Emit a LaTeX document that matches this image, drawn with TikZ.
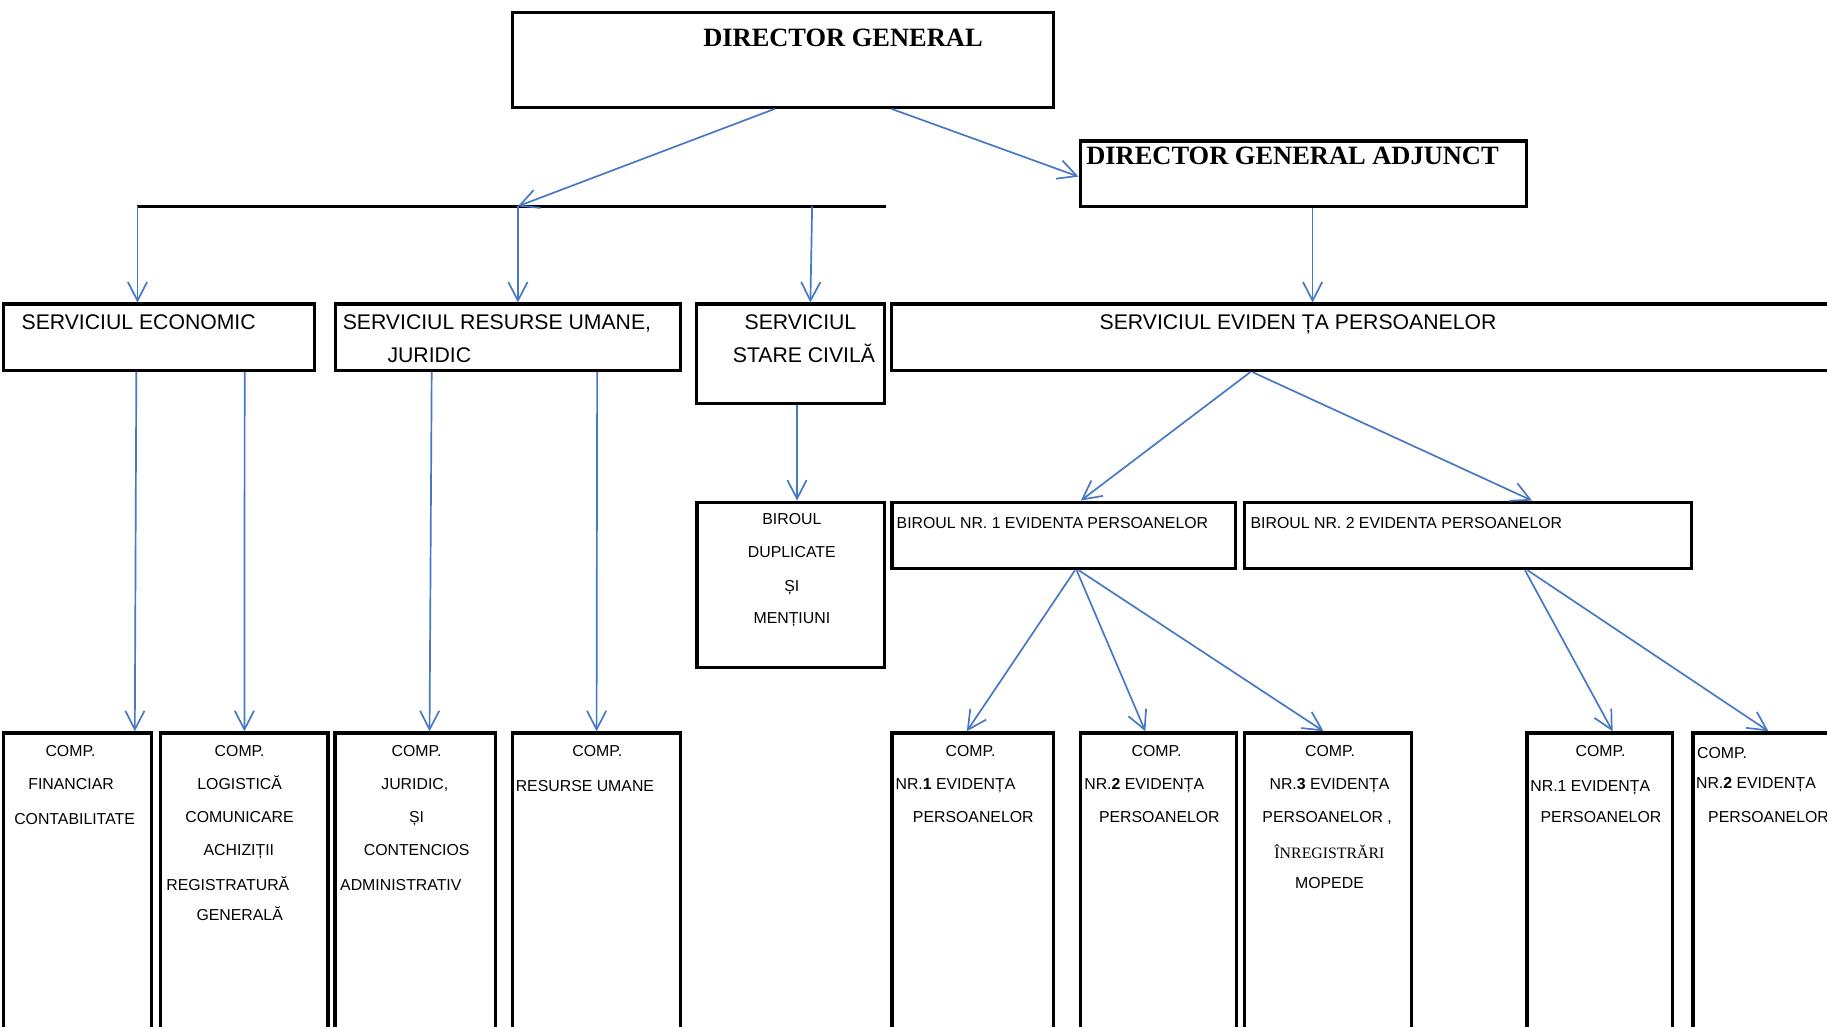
\documentclass[tikz,border=0pt]{standalone}
\usepackage{fontspec}
\setmainfont{Liberation Sans}
\newfontfamily\timesfont{Liberation Serif}
\usetikzlibrary{arrows.meta}
\definecolor{arrblue}{RGB}{70,120,196}

\begin{document}
\begin{tikzpicture}[x=1pt,y=-1pt,
  box/.style={draw, line width=2.8pt, inner sep=0pt},
  arr/.style={draw=arrblue, line width=1.45pt, -{Straight Barb[length=16pt,width=16.5pt]}},
  lbl/.style={inner sep=0pt, text height=9.7pt, text depth=0pt, font=\fontsize{13.6}{16}\selectfont},
  big/.style={inner sep=0pt, text height=13pt, text depth=0pt, font=\fontsize{18.2}{22}\selectfont},
  head/.style={inner sep=0pt, text height=15pt, text depth=0pt, font=\fontsize{22.7}{27}\timesfont\bfseries}]

\useasboundingbox (0,0) rectangle (1568,881);
\clip (0,0) rectangle (1568,881);

%boxes
\node[box, minimum width=464pt, minimum height=81pt] (dg) at (672,51.5) {};
\node[box, minimum width=383pt, minimum height=56pt] (dga) at (1118.5,149) {};
\node[box, minimum width=267pt, minimum height=57pt] (se) at (136.5,289.5) {};
\node[box, minimum width=296pt, minimum height=57pt] (sru) at (436,289.5) {};
\node[box, minimum width=161pt, minimum height=85.5pt] (ssc) at (678.5,303.75) {};
\node[box, minimum width=855pt, minimum height=57pt] (sep) at (1192.5,289.5) {};
\node[box, minimum width=161pt, minimum height=142pt] (bdm) at (678.75,502) {};
\node[box, minimum width=295pt, minimum height=57pt] (b1) at (913,459.5) {};
\node[box, minimum width=384pt, minimum height=57pt] (b2) at (1260,459.5) {};

% compartments
\foreach \n/\a/\b in {c1/3/130, c2/138/281.5, c3/287.5/425, c4/440/584, c5/765.5/904,
                     c6/927/1061.5, c7/1068/1211.5, c8/1310.5/1435.5, c9/1453/1620}
  \node[box, minimum width={(\b-\a)*1pt}, minimum height=291pt] (\n) at ({(\a+\b)/2},774.5) {};

% bar under director general
\coordinate (barL) at (118,177);
\coordinate (barR) at (760,177);
\coordinate (hub) at (444.5,177);
\coordinate (barC) at (697,177);
\draw[line width=2.4pt] (barL) -- (barR);

% arrows
\draw[arr] ([xshift=-7pt]dg.south) -- (hub);
\draw[arr] ([xshift=93pt]dg.south) -- ([yshift=-2.6pt]dga.west);
\draw[arr] (barL) -- (barL |- se.north);
\draw[arr] (hub) -- (hub |- sru.north);
\draw[arr] (barC) -- ([xshift=17pt]ssc.north);
\draw[arr] ([xshift=8pt]dga.south) -- ([xshift=-66pt]sep.north);
\draw[arr] ([xshift=5.5pt]ssc.south) -- ([xshift=5.25pt]bdm.north);
\draw[arr] ([xshift=-119.5pt]sep.south) -- ([xshift=14.6pt]b1.north);
\draw[arr] ([xshift=-117.5pt]sep.south) -- ([xshift=54.8pt]b2.north);
\draw[arr] ([xshift=-19.5pt]se.south) -- ([xshift=49.2pt]c1.north);
\draw[arr] ([xshift=73.5pt]se.south) -- (c2.north);
\draw[arr] ([xshift=-65.5pt]sru.south) -- ([xshift=12.4pt]c3.north);
\draw[arr] ([xshift=76.5pt]sru.south) -- (c4.north);
\draw[arr] ([xshift=9.6pt]b1.south) -- ([xshift=-5pt]c5.north);
\draw[arr] ([xshift=11pt]b1.south) -- ([xshift=-11.3pt]c6.north);
\draw[arr] ([xshift=12.8pt]b1.south) -- ([xshift=-3.8pt]c7.north);
\draw[arr] ([xshift=48.8pt]b2.south) -- ([xshift=11pt]c8.north);
\draw[arr] ([xshift=51pt]b2.south) -- ([xshift=-18.7pt]c9.north);

% titles
\node[head] (ldg) at (723.5,32) {DIRECTOR GENERAL};
\node[head] (ldga) at (1109.3,134) {DIRECTOR GENERAL ADJUNCT};
\node[big] (lse) at (119,276.7) {SERVICIUL ECONOMIC};
\node[big] (lsru) at (426.5,276.7) {SERVICIUL RESURSE UMANE,};
\node[big] (lsrub) at (368.5,304.7) {JURIDIC};
\node[big] (lssc) at (687,276.7) {SERVICIUL};
\node[big] (lsscb) at (690,304.7) {STARE CIVILĂ};
\node[big] (lsep) at (1114,276.7) {SERVICIUL EVIDEN ȚA PERSOANELOR};

% small texts
\foreach \x/\y/\t [count=\i] in {
  60.5/644/COMP., 61/672.3/FINANCIAR, 64/703/CONTABILITATE,
  205.7/644/COMP., 205.7/672.3/LOGISTICĂ, 205.6/700.9/COMUNICARE, 205/729/ACHIZIȚII,
  195.5/759.5/REGISTRATURĂ, 205.7/785.3/GENERALĂ,
  357.5/644/COMP., 356/672.3/{JURIDIC,}, 357.5/700.9/ȘI, 357.6/729/CONTENCIOS, 344/759.5/ADMINISTRATIV,
  512.6/644/COMP., 502/674.6/RESURSE UMANE,
  679.6/445.7/BIROUL, 679.6/474/DUPLICATE, 679.6/503/ȘI, 679.6/530/MENȚIUNI,
  903.2/448.3/BIROUL NR. 1 EVIDENTA PERSOANELOR,
  1207/448.3/BIROUL NR. 2 EVIDENTA PERSOANELOR,
  833/644/COMP., 820/672.3/NR.\textbf{1} EVIDENȚA, 835.3/700.9/PERSOANELOR,
  992.6/644/COMP., 982/672.3/NR.\textbf{2} EVIDENȚA, 995/700.9/PERSOANELOR,
  1141.5/644/COMP., 1141/672.3/NR.\textbf{3} EVIDENȚA, 1139/700.9/{PERSOANELOR ,},
  1141/731.8/\timesfont ÎNREGISTRĂRI, 1141/757.3/MOPEDE,
  1373.6/644/COMP., 1364.8/674.6/NR.1 EVIDENȚA, 1374/700.9/PERSOANELOR,
  1478/646.5/COMP., 1507/672/NR.\textbf{2} EVIDENȚA, 1517.8/700.9/PERSOANELOR}
  \node[lbl] (t\i) at (\x,\y) {\t};
\end{tikzpicture}
\end{document}
